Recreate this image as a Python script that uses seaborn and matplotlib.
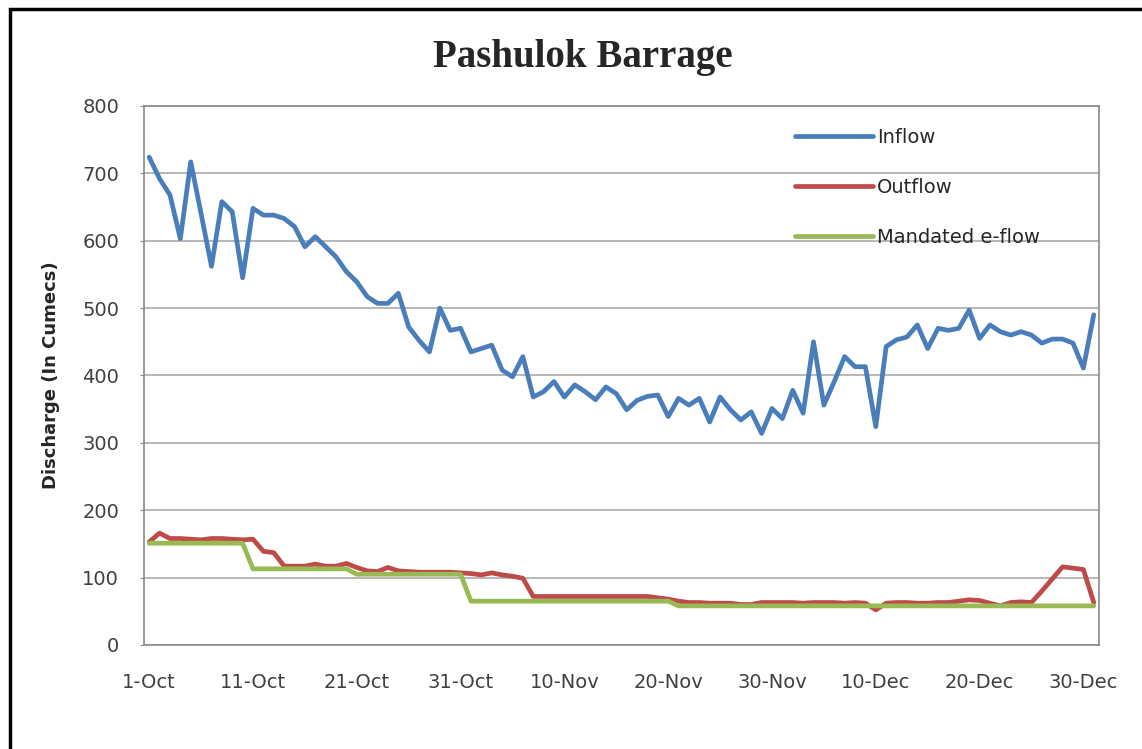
import numpy as np
import pandas as pd
import matplotlib
matplotlib.use("Agg")
import matplotlib.pyplot as plt
from matplotlib.patches import Rectangle
import seaborn as sns

#%% data (daily, 1-Oct to 31-Dec)
dates = pd.date_range("2012-10-01", "2012-12-31", freq="D")

inflow = [724, 692, 668, 603, 717, 640, 562, 658, 643, 545,
          648, 638, 638, 633, 621, 591, 606, 591, 576, 554,
          539, 517, 507, 507, 522, 472, 452, 435, 500, 467,
          470, 435, 440, 445, 408, 398, 428, 368, 376, 391,
          368, 386, 376, 364, 383, 373, 349, 363, 369, 371,
          339, 366, 356, 366, 331, 368, 349, 334, 346, 314,
          351, 336, 378, 344, 450, 356, 391, 428, 413, 413,
          324, 443, 453, 457, 475, 440, 470, 467, 470, 497,
          455, 475, 465, 460, 465, 460, 448, 454, 454, 448,
          411, 490]

outflow = [153, 166, 158, 158, 157, 156, 158, 158, 157, 156,
           157, 139, 137, 117, 117, 117, 120, 117, 117, 121,
           115, 110, 109, 115, 110, 109, 108, 108, 108, 108,
           107, 106, 104, 107, 104, 102, 99, 72, 72, 72,
           72, 72, 72, 72, 72, 72, 72, 72, 72, 70,
           68, 65, 63, 63, 62, 62, 62, 60, 60, 63,
           63, 63, 63, 62, 63, 63, 63, 62, 63, 62,
           52, 62, 63, 63, 62, 62, 63, 63, 65, 67,
           66, 62, 58, 63, 64, 63, 80, 98, 116, 114,
           112, 63]

eflow = [151] * 10 + [113] * 10 + [105] * 11 + [65] * 20 + [58] * 41

series_names = ["Inflow", "Outflow", "Mandated e-flow"]
series_colors = ["#4A7EBB", "#BE4B48", "#98B954"]
tick_labels = ["1-Oct", "11-Oct", "21-Oct", "31-Oct", "10-Nov",
               "20-Nov", "30-Nov", "10-Dec", "20-Dec", "30-Dec"]

df = pd.DataFrame({"date": dates, "Inflow": inflow,
                   "Outflow": outflow, "Mandated e-flow": eflow})
df = df.melt(id_vars="date", var_name="series", value_name="discharge")

#%% plot
sns.set_style("white")
plt.rcParams["font.family"] = ["DejaVu Sans"]
plt.rcParams["lines.solid_joinstyle"] = "round"
plt.rcParams["lines.solid_capstyle"] = "round"

fig = plt.figure(figsize=(11.42, 7.49), dpi=100)
ax = fig.add_axes([0.1261, 0.1389, 0.8362, 0.7196])

sns.lineplot(data=df, x="date", y="discharge", hue="series",
             hue_order=series_names, palette=series_colors,
             linewidth=3.4, ax=ax)

ax.set_ylim(0, 800)
ax.set_yticks(range(0, 900, 100))
ax.set_xlim(dates[0] - pd.Timedelta(hours=12), dates[-1] + pd.Timedelta(hours=12))
ax.set_xticks(dates[::10])
ax.set_xticklabels(tick_labels)

ax.grid(axis="y", color="#ABABAB", linewidth=1.2)
ax.grid(axis="x", visible=False)
ax.set_axisbelow(True)
for sp in ax.spines.values():
    sp.set_color("#8A8A8A")
    sp.set_linewidth(1.2)

ax.tick_params(axis="y", direction="out", length=3, color="#8A8A8A",
               pad=15, labelsize=14, labelcolor="#404040", left=True)
ax.tick_params(axis="x", length=0, pad=20, labelsize=14, labelcolor="#404040")

ax.set_xlabel("")
ax.set_ylabel("Discharge (In Cumecs)", fontsize=13, fontweight="bold")
ax.yaxis.set_label_coords(-0.088, 0.5)

handles, labels = ax.get_legend_handles_labels()
ax.legend(handles, labels, loc="upper left", bbox_to_anchor=(0.682, 0.959),
          frameon=False, fontsize=14, handlelength=4.0, handletextpad=0.2,
          labelspacing=1.6, borderpad=0, borderaxespad=0)

fig.text(583 / 1142, 1 - 57 / 749, "Pashulok Barrage", ha="center", va="center",
         fontsize=28, fontweight="bold", family=["Liberation Serif", "DejaVu Serif"])

# black outer frame of the chart
fig.patches.append(Rectangle((10 / 1142, -0.1), 1.2, 1.1 - 9 / 749,
                             transform=fig.transFigure, fill=False,
                             edgecolor="black", linewidth=2.5, clip_on=False))

fig.savefig("out.png", dpi=100)
